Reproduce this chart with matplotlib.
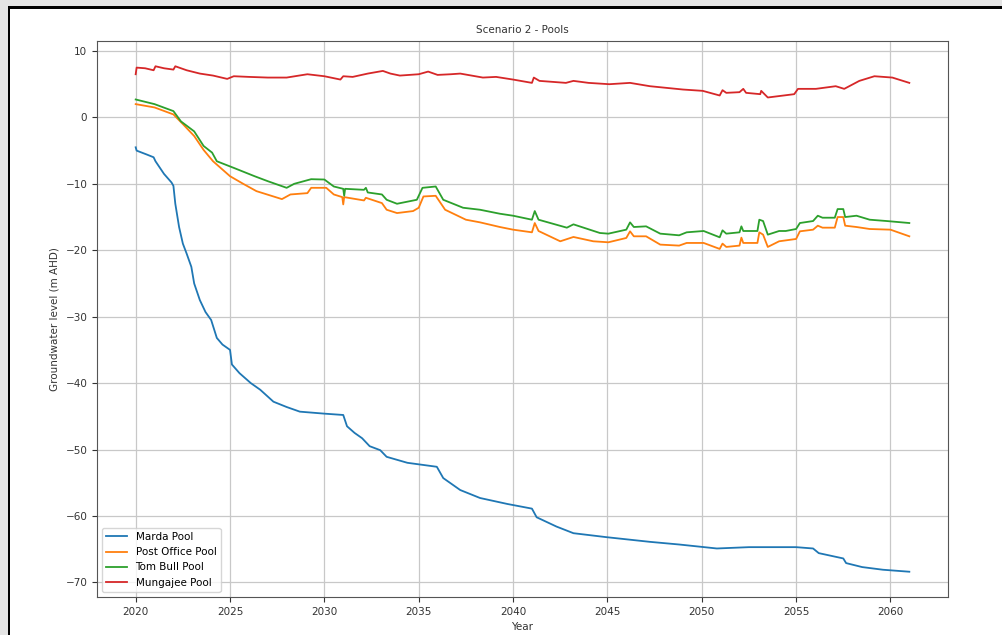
import numpy as np
import matplotlib
matplotlib.use("Agg")
import matplotlib.pyplot as plt
from matplotlib.patches import Rectangle

# Marda Pool
marda_years = [2020.0, 2020.05, 2020.6, 2020.95, 2021.05, 2021.5, 2021.9, 2022.0, 2022.1, 2022.3,
               2022.5, 2022.7, 2022.95, 2023.1, 2023.4, 2023.7, 2024.0, 2024.3, 2024.6, 2025.0,
               2025.1, 2025.5, 2026.1, 2026.6, 2027.3, 2028.0, 2028.7, 2030.0, 2031.0, 2031.2,
               2031.6, 2032.0, 2032.4, 2032.96, 2033.3, 2034.4, 2035.96, 2036.3, 2037.2, 2038.25,
               2039.7, 2041.0, 2041.25, 2042.3, 2043.2, 2044.96, 2047.25, 2048.8, 2050.8, 2052.5,
               2055.0, 2055.9, 2056.2, 2057.5, 2057.65, 2058.5, 2059.6, 2061.0]
marda = [-4.5, -5.0, -5.6, -6.0, -6.6, -8.5, -9.8, -10.3, -13.0, -16.5,
         -19.0, -20.5, -22.5, -25.0, -27.5, -29.3, -30.5, -33.2, -34.2, -35.0,
         -37.2, -38.5, -40.0, -41.0, -42.8, -43.6, -44.3, -44.6, -44.8, -46.5,
         -47.5, -48.3, -49.5, -50.1, -51.1, -52.0, -52.6, -54.3, -56.1, -57.3,
         -58.2, -58.9, -60.2, -61.6, -62.6, -63.2, -63.9, -64.3, -64.9, -64.7,
         -64.7, -64.9, -65.6, -66.4, -67.1, -67.7, -68.1, -68.4]

# Post Office Pool
post_years = [2020.0, 2021.0, 2022.0, 2022.5, 2023.1, 2023.6, 2024.1, 2025.0, 2025.7, 2026.4,
              2027.75, 2028.2, 2029.1, 2029.3, 2030.1, 2030.5, 2030.95, 2031.0, 2031.05, 2032.1,
              2032.2, 2033.05, 2033.3, 2033.85, 2034.7, 2035.0, 2035.25, 2035.9, 2036.4, 2037.5,
              2038.25, 2039.3, 2040.0, 2041.0, 2041.15, 2041.35, 2042.5, 2043.2, 2044.25, 2045.05,
              2046.0, 2046.2, 2046.4, 2047.05, 2047.8, 2048.8, 2049.2, 2050.1, 2050.95, 2051.1,
              2051.3, 2052.0, 2052.1, 2052.2, 2052.95, 2053.05, 2053.25, 2053.5, 2054.1, 2055.0,
              2055.2, 2055.9, 2056.15, 2056.4, 2057.05, 2057.2, 2057.5, 2057.6, 2058.2, 2058.9,
              2060.0, 2061.0]
post = [2.0, 1.5, 0.45, -1.0, -2.8, -4.9, -6.6, -8.85, -10.0, -11.1,
        -12.3, -11.6, -11.4, -10.6, -10.6, -11.6, -12.0, -13.1, -12.0, -12.5,
        -12.1, -12.9, -13.9, -14.4, -14.1, -13.6, -11.9, -11.8, -13.9, -15.4,
        -15.8, -16.5, -16.9, -17.3, -15.9, -17.1, -18.65, -18.0, -18.65, -18.8,
        -18.15, -17.15, -17.9, -17.9, -19.15, -19.3, -18.9, -18.9, -19.8, -19.0,
        -19.5, -19.3, -18.1, -18.9, -18.9, -17.3, -17.65, -19.5, -18.65, -18.3,
        -17.15, -16.9, -16.3, -16.6, -16.6, -15.0, -15.0, -16.3, -16.5, -16.8,
        -16.9, -17.9]

# Tom Bull Pool
tom_years = [2020.0, 2021.0, 2022.0, 2022.4, 2023.1, 2023.6, 2024.05, 2024.3, 2025.2, 2026.3,
             2027.0, 2028.0, 2028.4, 2029.3, 2030.0, 2030.5, 2031.0, 2031.05, 2031.1, 2032.1,
             2032.2, 2032.3, 2033.05, 2033.3, 2033.85, 2034.9, 2035.2, 2035.9, 2036.3, 2037.35,
             2038.25, 2039.3, 2040.0, 2041.0, 2041.15, 2041.35, 2042.85, 2043.2, 2044.6, 2045.05,
             2046.0, 2046.2, 2046.4, 2047.05, 2047.8, 2048.8, 2049.2, 2050.1, 2050.95, 2051.1,
             2051.3, 2052.0, 2052.1, 2052.2, 2052.95, 2053.05, 2053.25, 2053.5, 2054.1, 2054.45,
             2055.0, 2055.2, 2055.9, 2056.15, 2056.4, 2057.05, 2057.2, 2057.5, 2057.6, 2058.2,
             2058.9, 2059.8, 2061.0]
tom = [2.7, 2.0, 0.95, -0.6, -2.1, -4.3, -5.3, -6.6, -7.6, -8.85,
       -9.6, -10.6, -10.0, -9.3, -9.35, -10.4, -10.75, -11.8, -10.75, -10.9,
       -10.6, -11.3, -11.6, -12.4, -13.0, -12.4, -10.6, -10.4, -12.4, -13.6,
       -13.9, -14.5, -14.8, -15.4, -14.1, -15.4, -16.6, -16.1, -17.4, -17.5,
       -16.9, -15.8, -16.5, -16.4, -17.5, -17.75, -17.3, -17.1, -18.05, -17.0,
       -17.5, -17.3, -16.4, -17.1, -17.1, -15.4, -15.6, -17.65, -17.1, -17.1,
       -16.8, -15.9, -15.6, -14.8, -15.1, -15.1, -13.8, -13.8, -15.0, -14.8,
       -15.4, -15.6, -15.9]

# Mungajee Pool
mung_years = [2020.0, 2020.05, 2020.5, 2020.95, 2021.05, 2021.5, 2022.0, 2022.1, 2022.7, 2023.4,
              2024.1, 2024.85, 2025.2, 2026.0, 2027.0, 2028.0, 2029.1, 2030.0, 2030.85, 2031.0,
              2031.5, 2032.3, 2033.1, 2033.5, 2034.0, 2035.0, 2035.5, 2036.0, 2036.7, 2037.2,
              2038.4, 2039.1, 2040.0, 2041.0, 2041.1, 2041.4, 2042.8, 2043.2, 2044.0, 2045.1,
              2046.2, 2047.25, 2049.0, 2050.05, 2050.95, 2051.1, 2051.3, 2052.0, 2052.2, 2052.35,
              2053.1, 2053.15, 2053.5, 2054.9, 2055.1, 2056.05, 2057.1, 2057.55, 2058.35, 2059.15,
              2060.1, 2061.0]
mung = [6.5, 7.5, 7.4, 7.1, 7.7, 7.4, 7.2, 7.7, 7.1, 6.6,
        6.3, 5.8, 6.2, 6.1, 6.0, 6.0, 6.5, 6.2, 5.7, 6.2,
        6.1, 6.6, 7.0, 6.6, 6.3, 6.5, 6.9, 6.4, 6.5, 6.6,
        6.0, 6.1, 5.7, 5.2, 6.0, 5.5, 5.2, 5.5, 5.2, 5.0,
        5.2, 4.7, 4.2, 4.0, 3.3, 4.1, 3.7, 3.8, 4.3, 3.7,
        3.5, 4.0, 3.0, 3.5, 4.3, 4.3, 4.7, 4.3, 5.5, 6.2,
        6.0, 5.2]

W, H = 1003, 635
fig = plt.figure(figsize=(W / 100, H / 100), dpi=100)

# grey surround and black frame on top and left
fig.add_artist(Rectangle((0, 1 - 6 / H), 1, 6 / H, transform=fig.transFigure, color="#e4e4e4", lw=0))
fig.add_artist(Rectangle((0, 0), 8 / W, 1, transform=fig.transFigure, color="#e4e4e4", lw=0))
fig.add_artist(Rectangle((8 / W, 1 - 8.5 / H), 1, 2.5 / H, transform=fig.transFigure, color="black", lw=0))
fig.add_artist(Rectangle((8 / W, 0), 2.5 / W, 1 - 6 / H, transform=fig.transFigure, color="black", lw=0))

ax = fig.add_axes([97 / W, 1 - 597 / H, (948 - 97) / W, (597 - 41) / H])
ax.plot(marda_years, marda, color="#1f77b4", lw=1.3, label="Marda Pool")
ax.plot(post_years, post, color="#ff7f0e", lw=1.3, label="Post Office Pool")
ax.plot(tom_years, tom, color="#2ca02c", lw=1.3, label="Tom Bull Pool")
ax.plot(mung_years, mung, color="#d62728", lw=1.3, label="Mungajee Pool")

ax.set_xticks(np.arange(2020, 2061, 5))
ax.set_yticks(np.arange(-70, 11, 10))
ax.grid(True, color="#c8c8c8", lw=0.9)
ax.tick_params(labelsize=7.5, colors="#333333", length=3.5)
for s in ax.spines.values():
    s.set_color("#555555")

ax.set_title("Scenario 2 - Pools", fontsize=7.5, color="#333333")
ax.set_xlabel("Year", fontsize=7.5, color="#333333")
ax.set_ylabel("Groundwater level (m AHD)", fontsize=7.5, color="#333333")
ax.legend(loc="lower left", fontsize=7.5, framealpha=0.8, edgecolor="#cccccc")

fig.savefig("out.png", dpi=100)
